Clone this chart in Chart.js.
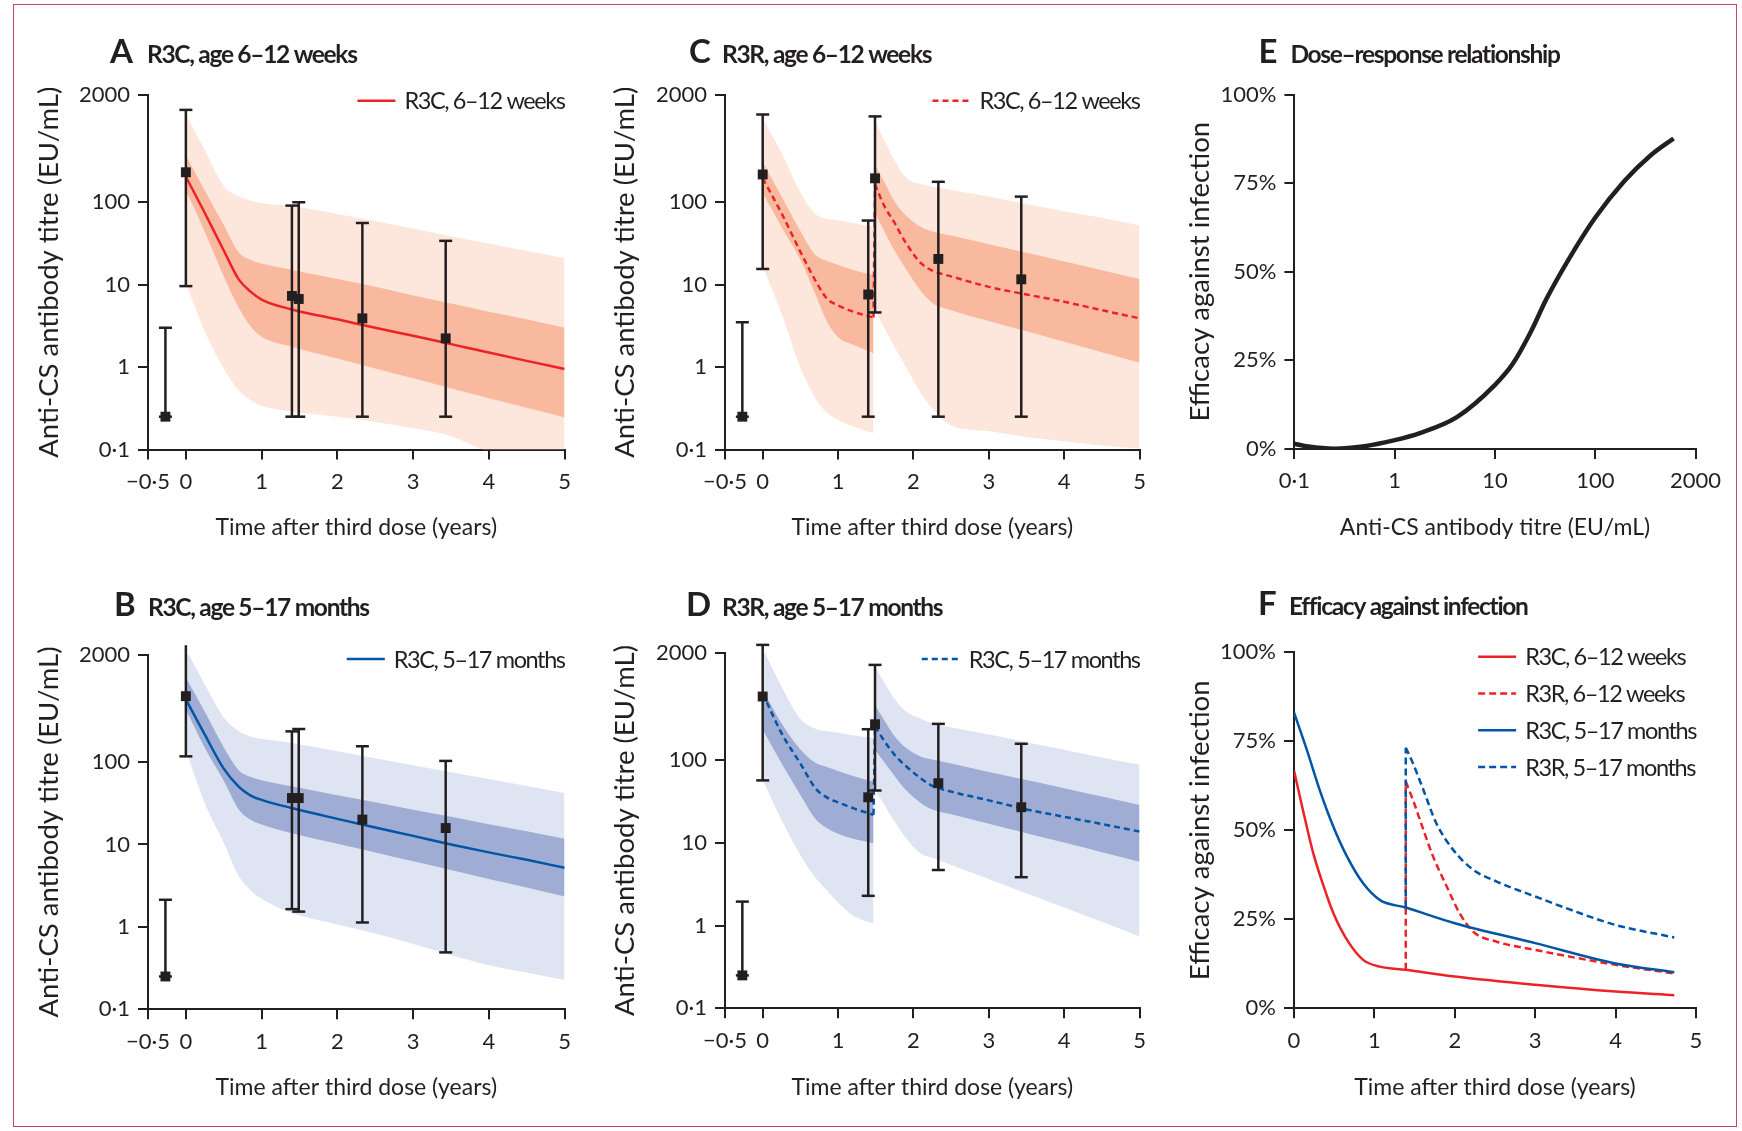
<!DOCTYPE html>
<html>
<head>
<meta charset="utf-8">
<title>RTS,S anti-CS antibody kinetics and efficacy</title>
<script src="https://cdn.jsdelivr.net/npm/chart.js@4.4.1/dist/chart.umd.min.js"></script>
<style>
  html, body { margin: 0; padding: 0; background: #fff; }
  body { width: 1742px; height: 1131px; position: relative; overflow: hidden; }
  .frame { position: absolute; left: 13px; top: 4px; width: 1724px; height: 1123px;
           border: 1.5px solid #c6426c; box-sizing: border-box; }
  canvas { position: absolute; }
</style>
</head>
<body>
<div class="frame"></div>
<canvas id="panelA"></canvas>
<canvas id="panelC"></canvas>
<canvas id="panelE"></canvas>
<canvas id="panelB"></canvas>
<canvas id="panelD"></canvas>
<canvas id="panelF"></canvas>
<script>
// ---------- shared axis values ----------
const titreTicks = [0.1, 1, 10, 100, 2000];
const titreTickLabels = ['0·1', '1', '10', '100', '2000'];
const yearTicks = [-0.5, 0, 1, 2, 3, 4, 5];
const yearTickLabels = ['−0·5', '0', '1', '2', '3', '4', '5'];
const efficacyTicks = [0, 25, 50, 75, 100];
const efficacyTickLabels = ['0%', '25%', '50%', '75%', '100%'];
const doseTicks = [0.1, 1, 10, 100, 1000];
const doseTickLabels = ['0·1', '1', '10', '100', '2000'];
const fYearTicks = [0, 1, 2, 3, 4, 5];
const fYearTickLabels = ['0', '1', '2', '3', '4', '5'];

// observation times (years after third dose)
const obsTime = [-0.27, 0, 1.4, 1.49, 2.33, 3.43];

// ---------- Panel A: R3C, age 6–12 weeks ----------
const aTime = [0, 0.25, 0.5, 0.7, 0.85, 1.0, 1.4, 2, 2.5, 3, 3.5, 4, 4.5, 5];
const aMedian = [204, 74, 26, 11.5, 8.3, 6.6, 5.0, 3.8, 3.0, 2.4, 1.9, 1.5, 1.19, 0.95];
const aInnerHigh = [366, 139, 53, 24.5, 20, 18, 15.1, 11.7, 9.4, 7.4, 5.9, 4.7, 3.8, 3.0];
const aInnerLow = [141, 43.6, 12.6, 5.2, 3.16, 2.34, 1.77, 1.27, 0.96, 0.73, 0.55, 0.42, 0.32, 0.245];
const aOuterHigh = [1148, 427, 158, 117, 105, 98, 90, 72, 59, 48, 38.6, 31.5, 25.7, 20.9];
const aOuterLow = [10.4, 2.7, 0.95, 0.52, 0.40, 0.34, 0.29, 0.25, 0.216, 0.182, 0.145, 0.093, 0.076, 0.063];
const aObs = [0.25, 231, 7.3, 6.7, 3.9, 2.23];
const aObsLow = [0.25, 9.6, 0.25, 0.25, 0.25, 0.25];
const aObsHigh = [3.0, 1320, 91, 100, 56, 34];

// ---------- Panel B: R3C, age 5–17 months ----------
const bTime = [0, 0.25, 0.5, 0.7, 0.85, 1.0, 1.4, 2, 2.5, 3, 3.5, 4, 4.5, 5];
const bMedian = [575, 214, 83, 50, 39.4, 34.7, 27.6, 20.4, 16.0, 12.7, 10.0, 8.0, 6.5, 5.2];
const bInnerHigh = [1047, 407, 151, 79, 66, 60, 50.6, 39.6, 32.4, 26.4, 21.6, 17.6, 14.4, 11.7];
const bInnerLow = [433, 148, 59, 26.3, 20, 17.4, 13.7, 10.2, 8.0, 6.25, 4.9, 3.8, 3.0, 2.33];
const bOuterHigh = [2312, 871, 347, 236, 204, 191, 170, 135, 111, 91, 75, 62, 51, 42];
const bOuterLow = [141, 31.6, 10.5, 4.1, 2.8, 2.19, 1.47, 1.07, 0.83, 0.62, 0.457, 0.343, 0.279, 0.227];
const bObs = [0.25, 628, 36.5, 36.5, 20, 15.8];
const bObsLow = [0.25, 117, 1.64, 1.53, 1.13, 0.49];
const bObsHigh = [2.13, 2610, 235, 251, 155, 103];

// ---------- Panel C: R3R, age 6–12 weeks (before / after fourth dose) ----------
const cTimePre = [0, 0.25, 0.5, 0.7, 0.85, 1.0, 1.2, 1.47];
const cMedianPre = [195, 73.5, 25.1, 11.2, 6.8, 5.6, 4.7, 4.0];
const cInnerHighPre = [309, 117, 44.7, 22.9, 19.5, 17.4, 15.1, 13.1];
const cInnerLowPre = [129, 50, 20, 7.6, 3.6, 2.3, 1.86, 1.47];
const cOuterHighPre = [1047, 398, 132, 72, 63, 60, 56, 50];
const cOuterLowPre = [16.6, 4.47, 0.98, 0.417, 0.282, 0.229, 0.19, 0.157];
const cTimePost = [1.49, 1.6, 1.75, 1.9, 2.1, 2.25, 2.5, 3, 3.5, 4, 4.5, 5];
const cMedianPost = [165, 95, 56, 32, 18.2, 14.8, 12.6, 9.4, 7.6, 6.2, 4.9, 3.9];
const cInnerHighPost = [282, 186, 102, 69, 50, 44.2, 39.4, 30.9, 24.3, 19.1, 15.0, 11.7];
const cInnerLowPost = [74, 46.8, 25.7, 15.5, 8.3, 6.0, 4.9, 3.63, 2.72, 2.03, 1.51, 1.13];
const cOuterHighPost = [955, 603, 324, 200, 166, 155, 141, 117, 95, 78, 65, 52.5];
const cOuterLowPost = [4.9, 3.16, 1.74, 1.0, 0.48, 0.316, 0.195, 0.166, 0.141, 0.126, 0.112, 0.102];
const cObs = [0.25, 217, 7.6, 195, 20.5, 11.6];
const cObsLow = [0.25, 15.5, 0.25, 4.6, 0.25, 0.25];
const cObsHigh = [3.5, 1160, 60, 1100, 177, 117];

// ---------- Panel D: R3R, age 5–17 months ----------
const dTimePre = [0, 0.25, 0.5, 0.7, 0.85, 1.0, 1.2, 1.47];
const dMedianPre = [646, 212, 91, 45.7, 35.5, 30.9, 26.3, 21.9];
const dInnerHighPre = [708, 280, 135, 93, 83, 74, 64.6, 55.2];
const dInnerLowPre = [233, 92, 38, 19.5, 15.1, 12.9, 11.2, 9.9];
const dOuterHighPre = [2265, 776, 316, 240, 224, 214, 200, 185];
const dOuterLowPre = [57.8, 19.0, 7.1, 3.8, 2.7, 1.9, 1.32, 1.07];
const dTimePost = [1.49, 1.6, 1.75, 1.9, 2.1, 2.25, 2.5, 3, 3.5, 4, 4.5, 5];
const dMedianPost = [257, 178, 116, 85, 60, 49, 41.7, 32.7, 25.4, 20.7, 16.9, 13.7];
const dInnerHighPost = [468, 316, 195, 141, 110, 102, 91, 72, 57.5, 45.7, 36.3, 28.8];
const dInnerLowPost = [133, 98, 64.6, 43.6, 30.2, 25.4, 22.2, 17.1, 13.1, 10.1, 7.7, 5.9];
const dOuterHighPost = [1358, 912, 550, 388, 316, 279, 251, 204, 165, 134, 108, 88];
const dOuterLowPost = [43.8, 30.2, 18.2, 11.5, 7.4, 6.6, 5.4, 3.66, 2.45, 1.66, 1.11, 0.74];
const dObs = [0.25, 589, 35.6, 272, 52.7, 27];
const dObsLow = [0.25, 57, 2.29, 43, 4.7, 3.85];
const dObsHigh = [1.95, 2480, 237, 1420, 275, 158];

// ---------- Panel E: dose–response ----------
const eTitre = [0.1, 0.138, 0.25, 0.5, 1, 1.78, 4.17, 10, 15.1, 22.9, 32.4, 53.7, 100, 195, 355, 603];
const eEfficacy = [1.5, 0.7, 0.1, 0.8, 2.5, 4.5, 9.0, 18.1, 24.1, 33.2, 42.2, 53.3, 65.3, 75.6, 82.8, 87.6];

// ---------- Panel F: efficacy against infection over time ----------
const fTimeR3C612 = [0, 0.12, 0.24, 0.37, 0.49, 0.66, 0.86, 1.07, 1.39, 2, 3, 4, 4.73];
const fR3C612 = [66.8, 54.8, 43.5, 34.2, 26.7, 19.2, 13.6, 11.7, 10.8, 8.9, 6.6, 4.7, 3.7];
const fTimeR3R612 = [1.39, 1.48, 1.61, 1.73, 1.9, 2.06, 2.23, 2.52, 3, 4, 4.73];
const fR3R612 = [63.7, 58.5, 50.1, 42.6, 34.2, 26.7, 21.5, 18.7, 16.4, 12.2, 9.8];
const fTimeR3C517 = [0, 0.16, 0.32, 0.49, 0.66, 0.86, 1.07, 1.39, 2, 3, 4, 4.73];
const fR3C517 = [83.1, 72.6, 61.3, 51.0, 42.6, 35.1, 30.4, 28.3, 23.9, 18.3, 12.6, 10.1];
const fTimeR3R517 = [1.39, 1.48, 1.61, 1.77, 1.98, 2.23, 2.52, 3, 3.56, 4, 4.73];
const fR3R517 = [73.2, 68.8, 61.3, 52.0, 44.5, 38.9, 35.6, 31.4, 26.7, 23.4, 19.9];

// ---------- styling ----------
const INK = '#231f20';
const FONT = 'Lato, "Noto Sans", sans-serif';
const RED = '#ec2227';
const RED_LIGHT = '#fde7dd';
const RED_DARK = '#f8b99e';
const BLUE = '#0055a4';
const BLUE_LIGHT = '#dfe4f2';
const BLUE_DARK = '#9fadd4';

const zip = (xs, ys) => xs.map((x, i) => ({ x, y: ys[i] }));

// Panel letter and heading, drawn above the plot area
const panelTitle = {
  id: 'panelTitle',
  afterDraw(chart, args, o) {
    if (!o || !o.text) return;
    const { ctx, chartArea: ca } = chart;
    ctx.save();
    ctx.fillStyle = INK;
    ctx.textAlign = 'left';
    ctx.textBaseline = 'alphabetic';
    ctx.font = `700 33px ${FONT}`;
    ctx.fillText(o.letter, ca.left + o.letterDx, ca.top + o.baseDy);
    ctx.font = `700 24.5px ${FONT}`;
    ctx.letterSpacing = '-1.3px';
    ctx.fillText(o.text, ca.left + o.textDx, ca.top + o.baseDy);
    ctx.restore();
  }
};

// Line-sample legend anchored to the top-right corner of the plot area
const panelLegend = {
  id: 'panelLegend',
  afterDatasetsDraw(chart, args, o) {
    if (!o || !o.items) return;
    const { ctx, chartArea: ca } = chart;
    ctx.save();
    ctx.font = `23.5px ${FONT}`;
    ctx.letterSpacing = '-1.4px';
    const maxW = Math.max(...o.items.map(it => ctx.measureText(it.label).width));
    const textX = ca.right - maxW;
    const x1 = textX - 9, x0 = x1 - 38;
    o.items.forEach((it, i) => {
      const y = ca.top + o.top + i * 36.8;
      ctx.strokeStyle = it.color;
      ctx.lineWidth = 2.5;
      ctx.setLineDash(it.dash || []);
      ctx.beginPath(); ctx.moveTo(x0, y); ctx.lineTo(x1, y); ctx.stroke();
      ctx.setLineDash([]);
      ctx.fillStyle = INK;
      ctx.textAlign = 'left';
      ctx.textBaseline = 'middle';
      ctx.fillText(it.label, textX, y + 1);
    });
    ctx.restore();
  }
};
Chart.register(panelTitle, panelLegend);

function band(t, hi, lo, color, order) {
  const base = { pointRadius: 0, borderWidth: 0, borderColor: 'rgba(0,0,0,0)',
                 cubicInterpolationMode: 'monotone', order };
  return [
    { ...base, data: zip(t, hi), fill: false },
    { ...base, data: zip(t, lo), fill: '-1', backgroundColor: color }
  ];
}

function curve(t, v, color, opts = {}) {
  return { data: zip(t, v), borderColor: color, borderWidth: opts.width || 2.5,
           borderDash: opts.dash || [], pointRadius: 0, fill: false,
           cubicInterpolationMode: opts.straight ? 'default' : 'monotone',
           tension: 0, order: opts.order || 30 };
}

function errorBars(xs, lows, highs) {
  const pts = [];
  xs.forEach((x, i) => { pts.push({ x, y: lows[i] }, { x, y: highs[i] }, { x, y: null }); });
  return { data: pts, borderColor: INK, borderWidth: 2.5, pointStyle: 'line',
           pointRadius: 6.5, pointBorderWidth: 2.5, pointBorderColor: INK,
           spanGaps: false, tension: 0, clip: false, order: 20 };
}

function markers(xs, ys) {
  return { data: zip(xs, ys), showLine: false, pointStyle: 'rect', pointRadius: 7,
           pointBackgroundColor: INK, pointBorderWidth: 0, clip: false, order: 10 };
}

function axis(kind, min, max, tickVals, tickLabels, title, pad) {
  const isX = kind === 'x';
  return {
    min, max,
    position: isX ? 'bottom' : 'left',
    afterBuildTicks: s => { s.ticks = tickVals.map(v => ({ value: v })); },
    ticks: { color: INK, font: { family: FONT, size: 22 }, autoSkip: false,
             maxRotation: 0, minRotation: 0, padding: isX ? 9 : 8,
             callback: (v, i) => tickLabels[i] },
    grid: { display: true, drawOnChartArea: false, drawTicks: true, tickLength: 10,
            color: INK, lineWidth: 2 },
    border: { display: true, color: INK, width: 2 },
    title: { display: true, text: title, color: INK,
             font: { family: FONT, size: isX ? 23 : 27.5 },
             padding: isX ? { top: 0, bottom: pad } : { top: pad, bottom: 0 } }
  };
}

function panel(id, box, area, datasets, xAxis, yAxis, plugins) {
  const cv = document.getElementById(id);
  cv.width = box.w; cv.height = box.h;
  cv.style.left = box.x + 'px'; cv.style.top = box.y + 'px';
  cv.style.width = box.w + 'px'; cv.style.height = box.h + 'px';
  xAxis.afterFit = s => { s.height = box.y + box.h - area.bottom; };
  yAxis.afterFit = s => { s.width = area.left - box.x; };
  return new Chart(cv.getContext('2d'), {
    type: 'line',
    data: { datasets },
    options: {
      responsive: false, animation: false, devicePixelRatio: 1,
      events: [],
      layout: { autoPadding: false,
                padding: { left: 0, top: area.top - box.y, right: box.x + box.w - area.right, bottom: 0 } },
      plugins: { legend: { display: false }, tooltip: { enabled: false }, ...plugins },
      scales: { x: xAxis, y: yAxis }
    }
  });
}

const TIME_TITLE = 'Time after third dose (years)';
const TITRE_TITLE = 'Anti-CS antibody titre (EU/mL)';
const EFF_TITLE = 'Efficacy against infection';

function titreAxes(padX, padY) {
  const x = axis('x', -0.5, 5, yearTicks, yearTickLabels, TIME_TITLE, padX);
  x.type = 'linear';
  const y = axis('y', 0.1, 2000, titreTicks, titreTickLabels, TITRE_TITLE, padY);
  y.type = 'logarithmic';
  return [x, y];
}

// ---- A ----
{
  const [x, y] = titreAxes(18.2, 12.2);
  panel('panelA', { x: 20, y: 20, w: 560, h: 540 }, { left: 148, top: 95, right: 568, bottom: 449.5 }, [
    ...band(aTime, aOuterHigh, aOuterLow, RED_LIGHT, 50),
    ...band(aTime, aInnerHigh, aInnerLow, RED_DARK, 40),
    curve(aTime, aMedian, RED),
    errorBars(obsTime, aObsLow, aObsHigh),
    markers(obsTime, aObs)
  ], x, y, {
    panelTitle: { letter: 'A', text: 'R3C, age 6–12 weeks', letterDx: -38, textDx: -1, baseDy: -32 },
    panelLegend: { top: 5.7, items: [{ label: 'R3C, 6–12 weeks', color: RED }] }
  });
}

// ---- B ----
{
  const [x, y] = titreAxes(18.8, 12.2);
  panel('panelB', { x: 20, y: 575, w: 560, h: 545 }, { left: 148, top: 654.7, right: 568, bottom: 1009.3 }, [
    ...band(bTime, bOuterHigh, bOuterLow, BLUE_LIGHT, 50),
    ...band(bTime, bInnerHigh, bInnerLow, BLUE_DARK, 40),
    curve(bTime, bMedian, BLUE),
    errorBars(obsTime, bObsLow, bObsHigh),
    markers(obsTime, bObs)
  ], x, y, {
    panelTitle: { letter: 'B', text: 'R3C, age 5–17 months', letterDx: -34, textDx: 0, baseDy: -38.5 },
    panelLegend: { top: 4.3, items: [{ label: 'R3C, 5–17 months', color: BLUE }] }
  });
}

// ---- C ----
{
  const [x, y] = titreAxes(18.2, 13.5);
  const dash = [6, 4];
  panel('panelC', { x: 595, y: 20, w: 560, h: 540 }, { left: 725, top: 95, right: 1142, bottom: 449.5 }, [
    ...band(cTimePre, cOuterHighPre, cOuterLowPre, RED_LIGHT, 50),
    ...band(cTimePost, cOuterHighPost, cOuterLowPost, RED_LIGHT, 50),
    ...band(cTimePre, cInnerHighPre, cInnerLowPre, RED_DARK, 40),
    ...band(cTimePost, cInnerHighPost, cInnerLowPost, RED_DARK, 40),
    curve(cTimePre, cMedianPre, RED, { dash }),
    curve([cTimePre.at(-1), cTimePost[0]], [cMedianPre.at(-1), cMedianPost[0]], RED, { dash, straight: true }),
    curve(cTimePost, cMedianPost, RED, { dash }),
    errorBars(obsTime, cObsLow, cObsHigh),
    markers(obsTime, cObs)
  ], x, y, {
    panelTitle: { letter: 'C', text: 'R3R, age 6–12 weeks', letterDx: -36, textDx: -3, baseDy: -32 },
    panelLegend: { top: 5.7, items: [{ label: 'R3C, 6–12 weeks', color: RED, dash }] }
  });
}

// ---- D ----
{
  const [x, y] = titreAxes(18.8, 13.5);
  const dash = [6, 4];
  panel('panelD', { x: 595, y: 575, w: 560, h: 545 }, { left: 725, top: 652.6, right: 1142, bottom: 1008.3 }, [
    ...band(dTimePre, dOuterHighPre, dOuterLowPre, BLUE_LIGHT, 50),
    ...band(dTimePost, dOuterHighPost, dOuterLowPost, BLUE_LIGHT, 50),
    ...band(dTimePre, dInnerHighPre, dInnerLowPre, BLUE_DARK, 40),
    ...band(dTimePost, dInnerHighPost, dInnerLowPost, BLUE_DARK, 40),
    curve(dTimePre, dMedianPre, BLUE, { dash }),
    curve([dTimePre.at(-1), dTimePost[0]], [dMedianPre.at(-1), dMedianPost[0]], BLUE, { dash, straight: true }),
    curve(dTimePost, dMedianPost, BLUE, { dash }),
    errorBars(obsTime, dObsLow, dObsHigh),
    markers(obsTime, dObs)
  ], x, y, {
    panelTitle: { letter: 'D', text: 'R3R, age 5–17 months', letterDx: -39, textDx: -3, baseDy: -37 },
    panelLegend: { top: 6.4, items: [{ label: 'R3C, 5–17 months', color: BLUE, dash }] }
  });
}

// ---- E ----
{
  const x = axis('x', 0.1, 1000, doseTicks, doseTickLabels, TITRE_TITLE, 18.2);
  x.type = 'logarithmic';
  const y = axis('y', 0, 100, efficacyTicks, efficacyTickLabels, EFF_TITLE, 13.5);
  y.type = 'linear';
  panel('panelE', { x: 1170, y: 20, w: 566, h: 540 }, { left: 1294.4, top: 94.5, right: 1695.6, bottom: 449 }, [
    curve(eTitre, eEfficacy, INK, { width: 4.5 })
  ], x, y, {
    panelTitle: { letter: 'E', text: 'Dose–response relationship', letterDx: -36, textDx: -4, baseDy: -32 }
  });
}

// ---- F ----
{
  const x = axis('x', 0, 5, fYearTicks, fYearTickLabels, TIME_TITLE, 18.8);
  x.type = 'linear';
  const y = axis('y', 0, 100, efficacyTicks, efficacyTickLabels, EFF_TITLE, 13.5);
  y.type = 'linear';
  const dash = [7, 4];
  const boost = fTimeR3R612[0];
  const preRed = fR3C612[fTimeR3C612.indexOf(boost)];
  const preBlue = fR3C517[fTimeR3C517.indexOf(fTimeR3R517[0])];
  panel('panelF', { x: 1170, y: 575, w: 566, h: 545 }, { left: 1294, top: 652.3, right: 1696, bottom: 1008.3 }, [
    curve(fTimeR3C612, fR3C612, RED, { order: 35 }),
    curve([boost, boost], [preRed, fR3R612[0]], RED, { dash, straight: true, order: 35 }),
    curve(fTimeR3R612, fR3R612, RED, { dash, order: 35 }),
    curve(fTimeR3C517, fR3C517, BLUE, { order: 30 }),
    curve([fTimeR3R517[0], fTimeR3R517[0]], [preBlue, fR3R517[0]], BLUE, { dash, straight: true, order: 30 }),
    curve(fTimeR3R517, fR3R517, BLUE, { dash, order: 30 })
  ], x, y, {
    panelTitle: { letter: 'F', text: 'Efficacy against infection', letterDx: -36, textDx: -5, baseDy: -37 },
    panelLegend: { top: 4.4, items: [
      { label: 'R3C, 6–12 weeks', color: RED },
      { label: 'R3R, 6–12 weeks', color: RED, dash },
      { label: 'R3C, 5–17 months', color: BLUE },
      { label: 'R3R, 5–17 months', color: BLUE, dash }
    ] }
  });
}
</script>
</body>
</html>
